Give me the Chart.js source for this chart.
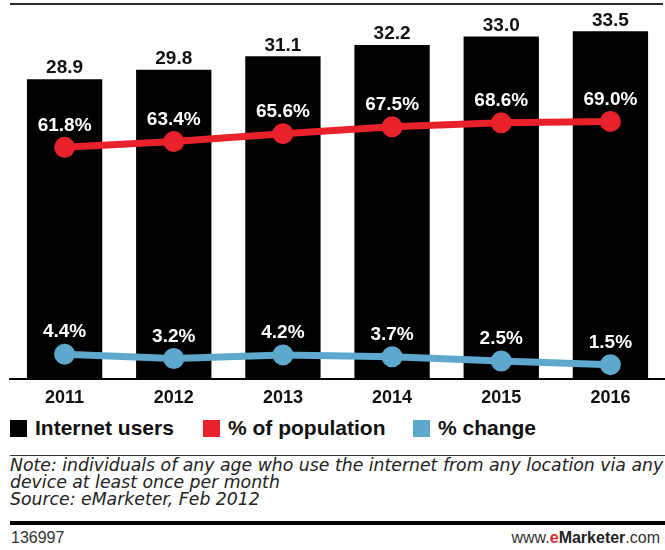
<!DOCTYPE html>
<html>
<head>
<meta charset="utf-8">
<script src="https://cdn.jsdelivr.net/npm/chart.js@4.4.1/dist/chart.umd.min.js"></script>
<style>
  body { margin: 0; background: #fff; font-family: "Liberation Sans", Arial, sans-serif; }
  #page { position: relative; width: 665px; height: 550px; overflow: hidden; }
  #topline { position: absolute; left: 10px; top: 3px; width: 653px; height: 2px; background: #2b2b2b; }
  #chartbox { position: absolute; left: 0; top: 0; width: 665px; height: 409px; }
  #legend { position: absolute; left: 10px; top: 418px; font-weight: bold; font-size: 21px; color: #111; white-space: nowrap; }
  #legend span.item { position: absolute; top: 0; }
  #legend i { position: absolute; top: 2px; width: 17px; height: 17px; }
  #legend b { position: absolute; left: 25px; top: -2px; }
  #noteline { position: absolute; left: 10px; top: 455px; width: 655px; height: 1px; background: #333; }
  #note { position: absolute; left: 10px; top: 457px; font-family: "DejaVu Sans", sans-serif; font-style: italic; font-size: 17.3px; line-height: 17px; color: #222; white-space: nowrap; }
  #thick { position: absolute; left: 10px; top: 521px; width: 655px; height: 4px; background: #000; }
  #id { position: absolute; left: 11px; top: 529px; font-size: 16px; color: #333; }
  #site { position: absolute; right: 5px; top: 529px; font-size: 16px; color: #333; }
  #site .e { color: #e0222b; font-weight: bold; }
  #site .m { color: #222; font-weight: bold; }
</style>
</head>
<body>
<div id="page">
  <div id="topline"></div>
  <div id="chartbox"><canvas id="chart"></canvas></div>
  <div id="legend"></div>
  <div id="noteline"></div>
  <div id="note">Note: individuals of any age who use the internet from any location via any<br>device at least once per month<br>Source: eMarketer, Feb 2012</div>
  <div id="thick"></div>
  <div id="id">136997</div>
  <div id="site">www.<span class="e">e</span><span class="m">Marketer</span>.com</div>
</div>
<script>
const years = ['2011', '2012', '2013', '2014', '2015', '2016'];
const internetUsers = [28.9, 29.8, 31.1, 32.2, 33.0, 33.5];
const pctPopulation = [61.8, 63.4, 65.6, 67.5, 68.6, 69.0];
const pctChange = [4.4, 3.2, 4.2, 3.7, 2.5, 1.5];
const seriesNames = ['Internet users', '% of population', '% change'];
const seriesColors = ['#000000', '#e8212b', '#5ea8cd'];

// legend drawn as html
const legendEl = document.getElementById('legend');
const legendX = [0, 193, 403];
seriesNames.forEach((name, i) => {
    const item = document.createElement('span');
    item.className = 'item';
    item.style.left = legendX[i] + 'px';
    item.innerHTML = `<i style="background:${seriesColors[i]}"></i><b>${name}</b>`;
    legendEl.appendChild(item);
});

const valueLabels = {
    id: 'valueLabels',
    afterDatasetsDraw(chart) {
        const ctx = chart.ctx;
        ctx.save();
        ctx.font = 'bold 19px "Liberation Sans", Arial, sans-serif';
        ctx.textAlign = 'center';
        ctx.textBaseline = 'middle';
        chart.data.datasets.forEach((ds, i) => {
            const meta = chart.getDatasetMeta(i);
            meta.data.forEach((el, j) => {
                const v = ds.data[j];
                if (ds.type === 'bar') {
                    ctx.fillStyle = '#111';
                    ctx.fillText(v.toFixed(1), el.x, el.y - 11);
                } else {
                    ctx.fillStyle = '#fff';
                    ctx.fillText(v.toFixed(1) + '%', el.x, el.y - 22);
                }
            });
        });
        ctx.restore();
    }
};

new Chart(document.getElementById('chart'), {
    data: {
        labels: years,
        datasets: [
            {
                type: 'line',
                label: seriesNames[1],
                data: pctPopulation,
                yAxisID: 'pct',
                borderColor: seriesColors[1],
                backgroundColor: seriesColors[1],
                borderWidth: 7,
                pointRadius: 7,
                order: 0
            },
            {
                type: 'line',
                label: seriesNames[2],
                data: pctChange,
                yAxisID: 'pct',
                borderColor: seriesColors[2],
                backgroundColor: seriesColors[2],
                borderWidth: 7,
                pointRadius: 7,
                order: 1
            },
            {
                type: 'bar',
                label: seriesNames[0],
                data: internetUsers,
                yAxisID: 'y',
                backgroundColor: seriesColors[0],
                barPercentage: 0.69,
                categoryPercentage: 1.0,
                order: 2
            }
        ]
    },
    options: {
        responsive: true,
        maintainAspectRatio: false,
        animation: false,
        layout: { autoPadding: false, padding: { left: 10, right: 0, top: 5.4, bottom: 0 } },
        plugins: { legend: { display: false }, tooltip: { enabled: false } },
        scales: {
            x: {
                grid: { display: false },
                border: { display: true, color: '#000', width: 2 },
                ticks: { color: '#111', padding: 0, font: { family: '"Liberation Sans", Arial, sans-serif', size: 18, weight: 'bold' } }
            },
            y: { display: false, min: 0, max: 36 },
            pct: { display: false, min: -2.6, max: 101.2 }
        }
    },
    plugins: [valueLabels]
});
</script>
</body>
</html>
